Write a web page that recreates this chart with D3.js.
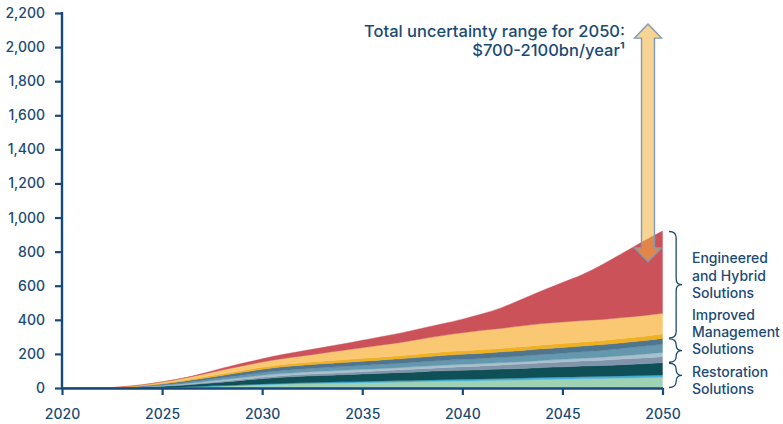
<!DOCTYPE html>
<html>
<head>
<meta charset="utf-8">
<script src="https://cdn.jsdelivr.net/npm/d3@7"></script>
<style>
  html, body { margin: 0; padding: 0; background: #ffffff; }
  svg { display: block; font-family: Inter, "Noto Sans", sans-serif; }
</style>
</head>
<body>
<svg id="chart" width="783" height="424"></svg>
<script>
// ---------- DATA ----------
const years = [2020,2021,2022,2023,2024,2025,2026,2027,2028,2029,2030,2031,2032,2033,2034,2035,2036,2037,2038,2039,2040,2041,2042,2043,2044,2045,2046,2047,2048,2049,2050];

const restorationGreen = [0,0,0,0.5,1.5,3,5,8,11,15,19,22,25,27,29,31,33,35,37,39,41,43,45,47,50,52,54,56,58,60,63];
const restorationBlue  = [0,0,0,0.2,0.5,1,1.5,2,3,3.5,4.5,5,6,6.5,7,7.5,8,8.5,9,9.5,10,10.5,11,11.5,12,12,12.5,12.5,13,13,13];
const restorationTeal  = [0,0,0,1,3,6,10,15,20,26,31,36,38,40,42,44,46,48,50,52,53,54,55,56,58,60,62,64,66,69,72];
const managementGrey   = [0,0,0,0.4,1,2,3,4.5,6,7,8,9,10,11,12,13,14,15,17,19,21,22,24,26,28,29,30,31,33,34.5,36];
const managementLight  = [0,0,0,0.5,1.5,3,4.5,6,8,10,12,13,14,14,14,14,14,14,14,14,14,14,14,14,14,15,16,17,19,22,25];
const managementBlue   = [0,0,0,0.8,2,4,6,9,12,14,16,18,19,21,22,23,24,25,27,28,29,30,31,33,34,36,38,40,43,46,48];
const managementSlate  = [0,0,0,1,2.5,5,8,11,14,17,19,21,22,23,24,25,26,27,28,29,30,31,32,33,34,34,34,34,33,33,34];
const engineeredGold   = [0,0,0,1,2.5,4,5.5,7,9,10,12,13,14,15,16,16.5,17,18,19,20,20,21,21,22,23,23,24,24,25,25,26];
const engineeredYellow = [0,0,0,1.5,4,8,12,17,22,27,31,35,40,47,54,62,70,78,88,97,106,113,118,122,125,126,125,124,123,122,121];
const engineeredRed    = [0,0,0,0,0,0,1,5,11,15,19,24,29,33,38,44,50,56,62,69,80,97,122,158,194,232,270,322,378,434,483];

const seriesKeys   = ["restorationGreen","restorationBlue","restorationTeal","managementGrey","managementLight","managementBlue","managementSlate","engineeredGold","engineeredYellow","engineeredRed"];
const seriesValues = [restorationGreen,restorationBlue,restorationTeal,managementGrey,managementLight,managementBlue,managementSlate,engineeredGold,engineeredYellow,engineeredRed];
const seriesColors = ["#9fd2b4","#46b2dc","#0f5056","#8095a9","#a9c0cc","#6398af","#50758f","#efb021","#fac872","#cc525a"];

const groupLabels = [
  { lines: ["Engineered","and Hybrid","Solutions"], from: 7, to: 9 },
  { lines: ["Improved","Management","Solutions"], from: 3, to: 6 },
  { lines: ["Restoration","Solutions"], from: 0, to: 2 }
];

const yTicks = [0,200,400,600,800,1000,1200,1400,1600,1800,2000,2200];
const xTicks = [2020,2025,2030,2035,2040,2045,2050];
const uncertaintyRange = [740, 2135];
const noteLines = ["Total uncertainty range for 2050:", "$700-2100bn/year\u00B9"];

// ---------- LAYOUT ----------
const svg = d3.select("#chart");
const navy = "#174a78";
const textCol = "#1b4a75";

const x = d3.scaleLinear().domain([2020, 2050]).range([62, 662.5]);
const y = d3.scaleLinear().domain([0, 2200]).range([388, 13]);

const table = years.map((yr, i) => {
  const row = { year: yr };
  seriesKeys.forEach((k, j) => row[k] = seriesValues[j][i]);
  return row;
});
const stacked = d3.stack().keys(seriesKeys)(table);

const area = d3.area()
  .x(d => x(d.data.year))
  .y0(d => y(d[0]))
  .y1(d => y(d[1]))
  .curve(d3.curveMonotoneX);

svg.append("g").selectAll("path")
  .data(stacked)
  .join("path")
  .attr("d", area)
  .attr("fill", (d, i) => seriesColors[i])
  .attr("stroke", (d, i) => seriesColors[i])
  .attr("stroke-width", 0.4);

// ---------- AXES ----------
const yAxis = d3.axisLeft(y).tickValues(yTicks).tickFormat(d3.format(",")).tickSize(7).tickSizeOuter(0).tickPadding(10);
const gy = svg.append("g").attr("transform", `translate(${x(2020)},0)`).call(yAxis);

const xAxis = d3.axisBottom(x).tickValues(xTicks).tickFormat(d3.format("d")).tickSize(7).tickSizeOuter(0).tickPadding(14);
const gx = svg.append("g").attr("transform", `translate(0,${y(0)})`).call(xAxis);

[gy, gx].forEach(g => {
  g.select(".domain").attr("stroke", navy).attr("stroke-width", 2.4);
  g.selectAll(".tick line").attr("stroke", navy).attr("stroke-width", 2.2);
  g.selectAll(".tick text").attr("fill", textCol).attr("font-size", 14).attr("font-weight", 500).attr("font-family", "Inter, sans-serif");
});
gy.select(".domain").attr("d", `M0,${y(2200)-1}V${y(0)+1}`);

// ---------- UNCERTAINTY ARROW ----------
const ax = x(2050) - 14.5;
const yTop = y(uncertaintyRange[1]);
const yBot = y(uncertaintyRange[0]);
const hw = 13.5, sw = 6.5, hh = 14;
const arrowPath = `M${ax},${yTop} L${ax+hw},${yTop+hh} L${ax+sw},${yTop+hh} L${ax+sw},${yBot-hh} L${ax+hw},${yBot-hh} L${ax},${yBot} L${ax-hw},${yBot-hh} L${ax-sw},${yBot-hh} L${ax-sw},${yTop+hh} L${ax-hw},${yTop+hh} Z`;
svg.append("path")
  .attr("d", arrowPath)
  .attr("fill", "#f3b03a")
  .attr("fill-opacity", 0.55)
  .attr("stroke", "#7f9bb3")
  .attr("stroke-width", 1.4)
  .attr("stroke-linejoin", "miter");

const note = svg.append("text")
  .attr("text-anchor", "end")
  .attr("fill", textCol)
  .attr("font-size", 16.5)
  .attr("font-weight", 500);
note.selectAll("tspan")
  .data(noteLines)
  .join("tspan")
  .attr("x", 625)
  .attr("y", (d, i) => 37 + i * 18.5)
  .text(d => d);

// ---------- BRACES & GROUP LABELS ----------
const last = years.length - 1;
function bracePath(x0, y1, y2, w) {
  const ym = (y1 + y2) / 2;
  const q = Math.min(6, (y2 - y1) / 4);
  const xm = x0 + w * 0.55;
  return `M${x0},${y1} Q${xm},${y1} ${xm},${y1+q} L${xm},${ym-q} Q${xm},${ym} ${x0+w},${ym} Q${xm},${ym} ${xm},${ym+q} L${xm},${y2-q} Q${xm},${y2} ${x0},${y2}`;
}
const labelY = [[258, 275.5, 293], [315, 332, 349], [372, 389]];
groupLabels.forEach((g, gi) => {
  const lo = stacked[g.from][last][0];
  const hi = stacked[g.to][last][1];
  svg.append("path")
    .attr("d", bracePath(669, y(hi) + 0.5, y(lo) - 0.5, 13))
    .attr("fill", "none")
    .attr("stroke", textCol)
    .attr("stroke-width", 1.3);
  const t = svg.append("text")
    .attr("fill", textCol)
    .attr("font-size", 14)
    .attr("font-weight", 500);
  t.selectAll("tspan")
    .data(g.lines)
    .join("tspan")
    .attr("x", 692)
    .attr("y", (d, i) => labelY[gi][i] + 5)
    .text(d => d);
});
</script>
</body>
</html>
